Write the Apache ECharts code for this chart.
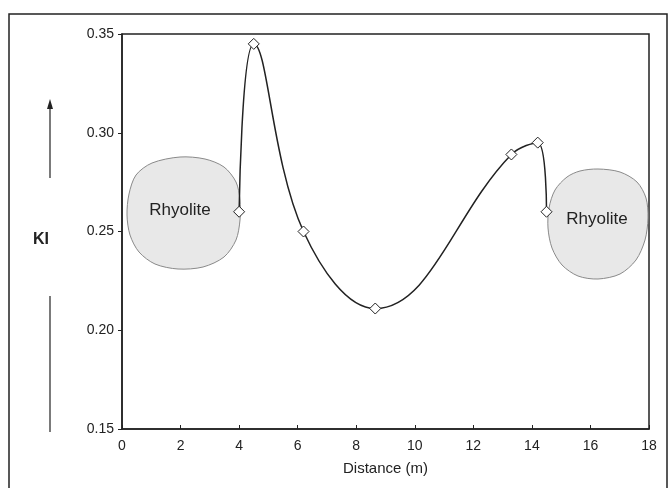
<!DOCTYPE html>
<html>
<head>
<meta charset="utf-8">
<script src="https://cdn.jsdelivr.net/npm/echarts@6/dist/echarts.min.js"></script>
<style>
  html, body { margin: 0; padding: 0; background: #fff; }
  #chart { width: 669px; height: 488px; }
</style>
</head>
<body>
<div id="chart"></div>
<script>
// data
var distance = [4.0, 4.5, 6.2, 8.65, 13.3, 14.2, 14.5];
var kiValues = [0.26, 0.345, 0.25, 0.211, 0.289, 0.295, 0.26];
var xTicks = { min: 0, max: 18, step: 2 };
var yTicks = { min: 0.15, max: 0.35, step: 0.05 };

var fontFamily = '"Liberation Sans", Arial, sans-serif';
var ink = '#222';

var points = distance.map(function (d, i) { return [d, kiValues[i]]; });

// rough outline of the two rock bodies (pixels)
var leftBlob = [[180,157],[205,159],[224,167],[236,182],[240,200],[240,220],[236,240],[224,257],[203,267],
  [178,269],[155,264],[139,252],[130,235],[127,215],[129,194],[136,175],[152,163]];
var rightBlob = [[598,169],[620,172],[637,182],[646,198],[648,218],[645,240],[636,260],[620,274],[598,279],
  [578,276],[562,265],[552,248],[548,228],[549,208],[555,190],[567,177],[580,171]];

var chart = echarts.init(document.getElementById('chart'), null, {renderer: 'canvas'});

var option = {
  animation: false,
  backgroundColor: '#fff',
  grid: {
    left: 122, right: 20, top: 34, bottom: 59,
    show: true,
    borderColor: ink,
    borderWidth: 1.5
  },
  xAxis: {
    type: 'value',
    min: xTicks.min, max: xTicks.max, interval: xTicks.step,
    name: 'Distance (m)',
    nameLocation: 'middle',
    nameGap: 32,
    nameTextStyle: { fontFamily: fontFamily, fontSize: 15, color: ink },
    axisLine: { lineStyle: { color: ink, width: 1.5 } },
    axisTick: { inside: true, length: 4, lineStyle: { color: ink } },
    axisLabel: { fontFamily: fontFamily, fontSize: 14, color: ink, margin: 10 },
    splitLine: { show: false }
  },
  yAxis: {
    type: 'value',
    min: yTicks.min, max: yTicks.max, interval: yTicks.step,
    axisLine: { show: true, lineStyle: { color: ink, width: 1.5 } },
    axisTick: { show: true, length: 4, lineStyle: { color: ink } },
    axisLabel: {
      fontFamily: fontFamily, fontSize: 14, color: ink, margin: 8,
      formatter: function (v) { return v.toFixed(2); }
    },
    splitLine: { show: false }
  },
  graphic: [
    // outer frame
    { type: 'rect', shape: { x: 9, y: 14, width: 658, height: 490 },
      style: { fill: 'none', stroke: ink, lineWidth: 1.5 }, z: 0 },
    // rhyolite bodies
    { type: 'polygon', shape: { points: leftBlob, smooth: 0.3 },
      style: { fill: '#e8e8e8', stroke: '#8a8a8a', lineWidth: 1 }, z: 1 },
    { type: 'text', x: 180, y: 210,
      style: { text: 'Rhyolite', fontFamily: fontFamily, fontSize: 17, fill: ink, align: 'center', verticalAlign: 'middle' }, z: 2 },
    { type: 'polygon', shape: { points: rightBlob, smooth: 0.3 },
      style: { fill: '#e8e8e8', stroke: '#8a8a8a', lineWidth: 1 }, z: 1 },
    { type: 'text', x: 597, y: 219,
      style: { text: 'Rhyolite', fontFamily: fontFamily, fontSize: 17, fill: ink, align: 'center', verticalAlign: 'middle' }, z: 2 },
    // y axis title with arrows
    { type: 'text', x: 41, y: 240,
      style: { text: 'KI', fontFamily: fontFamily, fontSize: 16, fontWeight: 'bold', fill: ink, align: 'center', verticalAlign: 'middle' } },
    { type: 'line', shape: { x1: 50, y1: 178, x2: 50, y2: 106 }, style: { stroke: ink, lineWidth: 1.2 } },
    { type: 'polygon', shape: { points: [[50, 99], [47, 109], [53, 109]] }, style: { fill: ink } },
    { type: 'line', shape: { x1: 50, y1: 296, x2: 50, y2: 432 }, style: { stroke: ink, lineWidth: 1.2 } }
  ],
  series: [
    {
      type: 'line',
      data: points,
      smooth: 0.4,
      symbol: 'diamond',
      symbolSize: 11,
      z: 5,
      lineStyle: { color: ink, width: 1.5 },
      itemStyle: { color: '#fff', borderColor: ink, borderWidth: 1 }
    }
  ]
};

chart.setOption(option);
</script>
</body>
</html>
